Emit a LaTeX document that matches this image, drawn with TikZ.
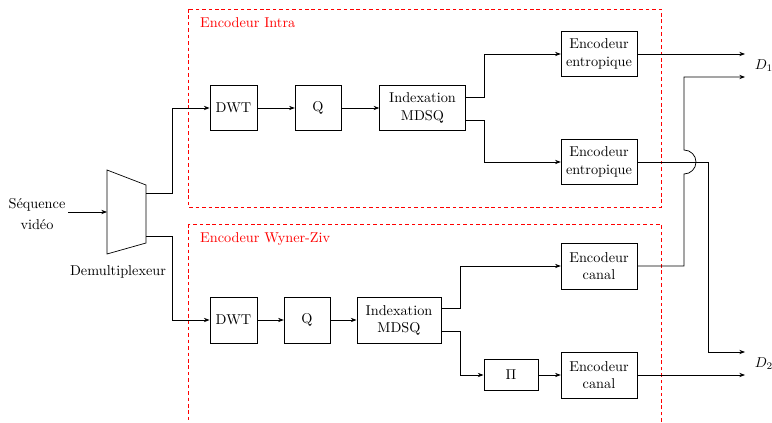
\documentclass[tikz,border=0pt]{standalone}
\usetikzlibrary{arrows.meta}
\begin{document}
\begin{tikzpicture}[x=0.7pt,y=-0.7pt,line width=0.5pt,
  blk/.style={draw,fill=white,align=center,inner sep=1pt},
  arr/.style={-{Stealth[length=4pt,width=3pt]}},
  zone/.style={draw=red,dash pattern=on 2.5pt off 2pt},
  zonelabel/.style={text=red,anchor=west}]
\useasboundingbox (0,0) rectangle (772,423);

% dashed frames of the two encoders
\draw[zone] (188,9) rectangle (661,207);
\node[zonelabel] (lintra) at (195,23) {Encodeur Intra};
\begin{scope}
  \clip (180,215) rectangle (670,423);
  \draw[zone] (188,224) rectangle (661,440);
\end{scope}
\node[zonelabel] (lwz) at (195,239) {Encodeur Wyner-Ziv};

% demultiplexer
\draw (107,170) -- (146,185) -- (146,243) -- (107,254) -- cycle;
\coordinate (dmin) at (107,212);
\coordinate (dmup) at (146,193);
\coordinate (dmlo) at (146,236);
\node (dmlabel) at (118,272) {Demultiplexeur};
\node[align=center] (seq) at (37,214) {S\'equence\\[3pt]vid\'eo};
\draw[arr] (68,212) -- (dmin);

% intra branch
\node[blk,minimum width=33pt,minimum height=32pt] (dwt1) at (233.5,108) {DWT};
\node[blk,minimum width=32pt,minimum height=32pt] (q1) at (318,108) {Q};
\node[blk,minimum width=60pt,minimum height=32pt] (mdsq1) at (422.5,108) {Indexation\\MDSQ};
\node[blk,minimum width=53pt,minimum height=32pt] (ent1) at (599,54) {Encodeur\\entropique};
\node[blk,minimum width=53pt,minimum height=32pt] (ent2) at (599,162) {Encodeur\\entropique};

% Wyner-Ziv branch
\node[blk,minimum width=33pt,minimum height=32pt] (dwt2) at (233.5,320) {DWT};
\node[blk,minimum width=32pt,minimum height=32pt] (q2) at (307,320) {Q};
\node[blk,minimum width=59pt,minimum height=32pt] (mdsq2) at (399,320) {Indexation\\MDSQ};
\node[blk,minimum width=53pt,minimum height=32pt] (can1) at (599,266) {Encodeur\\canal};
\node[blk,minimum width=38pt,minimum height=22pt] (pi) at (511,375) {$\Pi$};
\node[blk,minimum width=53pt,minimum height=32pt] (can2) at (599,375) {Encodeur\\canal};

% outputs
\node (d1) at (764,66) {$D_1$};
\node (d2) at (764,364) {$D_2$};
\coordinate (o1) at (745,54);
\coordinate (o2) at (745,77);
\coordinate (o3) at (745,352);
\coordinate (o4) at (745,375);

% demultiplexer to transforms
\draw[arr] (dmup) -- (172,193) |- (dwt1.west);
\draw[arr] (dmlo) -- (172,236) |- (dwt2.west);

% intra chain
\draw[arr] (dwt1) -- (q1);
\draw[arr] (q1) -- (mdsq1);
\draw[arr] (mdsq1.east |- 0,97) -- (484,97) |- (ent1.west);
\draw[arr] (mdsq1.east |- 0,120) -- (484,120) |- (ent2.west);
\draw[arr] (ent1.east) -- (o1);
\draw[arr] (ent2.east) -- (708,162) |- (o3);

% Wyner-Ziv chain
\draw[arr] (dwt2) -- (q2);
\draw[arr] (q2) -- (mdsq2);
\draw[arr] (mdsq2.east |- 0,308) -- (460,308) |- (can1.west);
\draw[arr] (mdsq2.east |- 0,331) -- (460,331) |- (pi.west);
\draw[arr] (pi) -- (can2);
\draw[arr] (can2.east) -- (o4);

% channel code output hopping over the crossing wire
\draw[arr] (can1.east) -- (684,266) -- (684,174)
  arc[start angle=-90,end angle=90,radius=8.4pt] -- (684,77) -- (o2);
\end{tikzpicture}
\end{document}
